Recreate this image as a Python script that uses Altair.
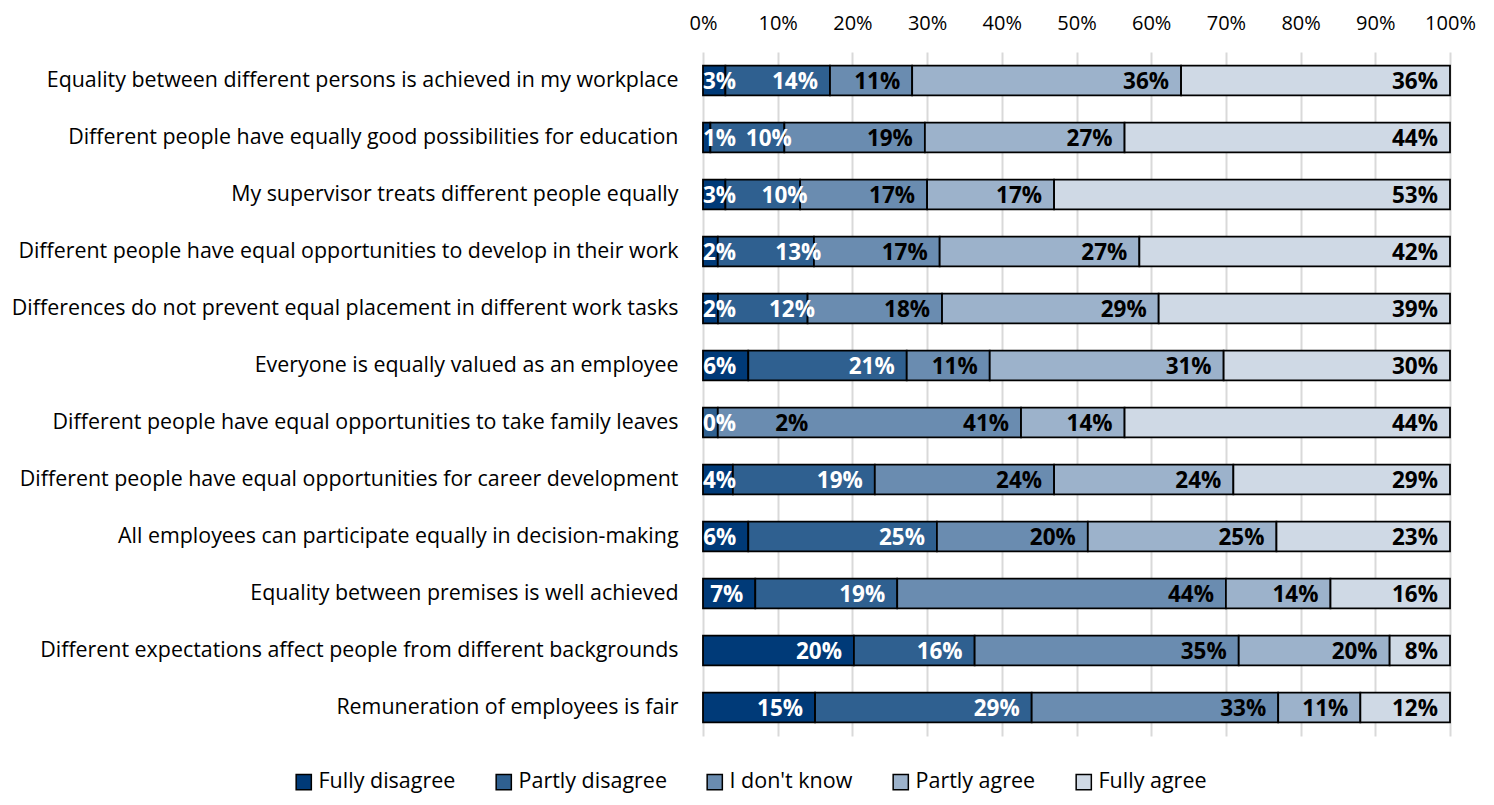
import altair as alt
import pandas as pd

questions = [
    "Equality between different persons is achieved in my workplace",
    "Different people have equally good possibilities for education",
    "My supervisor treats different people equally",
    "Different people have equal opportunities to develop in their work\u00a0",
    "Differences do not prevent equal placement in different work tasks\u00a0",
    "Everyone is equally valued as an employee",
    "Different people have equal opportunities to take family leaves",
    "Different people have equal opportunities for career development",
    "All employees can participate equally in decision-making",
    "Equality between premises is well achieved",
    "Different expectations affect people from different backgrounds",
    "Remuneration of employees is fair",
]
categories = ["Fully disagree", "Partly disagree", "I don't know", "Partly agree", "Fully agree"]
fully_disagree = [3, 1, 3, 2, 2, 6, 0, 4, 6, 7, 20, 15]
partly_disagree = [14, 10, 10, 13, 12, 21, 2, 19, 25, 19, 16, 29]
dont_know = [11, 19, 17, 17, 18, 11, 41, 24, 20, 44, 35, 33]
partly_agree = [36, 27, 17, 27, 29, 31, 14, 24, 25, 14, 20, 11]
fully_agree = [36, 44, 53, 42, 39, 30, 44, 29, 23, 16, 8, 12]
colors = ["#003a78", "#2f6090", "#6a8cb0", "#9cb2cb", "#cfd9e5"]

series = [fully_disagree, partly_disagree, dont_know, partly_agree, fully_agree]
rows = []
for ci, (cat, vals) in enumerate(zip(categories, series)):
    for qi, q in enumerate(questions):
        rows.append({"question": q, "category": cat, "order": ci, "value": vals[qi]})
df = pd.DataFrame(rows)

FONT = "Open Sans"

base = alt.Chart(df).transform_stack(
    stack="value", as_=["start", "end"], groupby=["question"],
    sort=[alt.SortField("order", order="ascending")], offset="normalize"
).transform_calculate(
    label=alt.datum.value + "%",
    lpos=("datum.category == 'Partly disagree' && datum.value < 5 ? datum.start + 0.157 : "
          "(datum.value < 5 ? datum.start : "
          "(datum.category == 'Partly disagree' && datum.value <= 13 ? datum.end + 0.026 : datum.end))"),
    white="datum.order < 2 && !(datum.category == 'Partly disagree' && datum.value < 5)"
)

y_enc = alt.Y("question:N", sort=questions, title=None,
              scale=alt.Scale(paddingInner=0.48, paddingOuter=0.24),
              axis=alt.Axis(domain=False, ticks=False, labelPadding=25, labelFontSize=21.4,
                            labelFont=FONT, labelColor="#000000", labelLimit=0))

bars = base.mark_bar(stroke="#000000", strokeWidth=1.8).encode(
    x=alt.X("start:Q", scale=alt.Scale(domain=[0, 1], nice=False),
            axis=alt.Axis(orient="top", format=".0%", values=[i / 10 for i in range(11)],
                          domain=False, ticks=False, labelPadding=19, labelFontSize=20,
                          labelFont=FONT, labelColor="#000000", gridColor="#d9d9d9",
                          gridWidth=2, labelFlush=False),
            title=None),
    x2="end:Q",
    y=y_enc,
    color=alt.Color("category:N", sort=categories,
                    scale=alt.Scale(domain=categories, range=colors),
                    legend=alt.Legend(title=None, orient="none", direction="horizontal",
                                      legendX=-410, legendY=719, symbolType="square",
                                      symbolSize=230, symbolStrokeColor="#000000",
                                      symbolStrokeWidth=1.5, labelFontSize=21.5, labelFont=FONT,
                                      labelColor="#000000", columnPadding=37, labelOffset=4)),
    order=alt.Order("order:Q"),
)

text_common = dict(fontSize=22.5, fontWeight="bold", font=FONT, baseline="middle", dy=1)
color_cond = alt.condition("datum.white", alt.value("#ffffff"), alt.value("#000000"))

labels_big = base.transform_filter("datum.value >= 5 || (datum.category == 'Partly disagree')").mark_text(
    align="right", dx=-12, **text_common).encode(
    x=alt.X("lpos:Q"),
    y=alt.Y("question:N", sort=questions),
    text="label:N",
    color=color_cond,
)

labels_small = base.transform_filter("datum.value < 5 && datum.category != 'Partly disagree'").mark_text(
    align="left", dx=0, **text_common).encode(
    x=alt.X("lpos:Q"),
    y=alt.Y("question:N", sort=questions),
    text="label:N",
    color=color_cond,
)

chart = alt.layer(bars, labels_big, labels_small).properties(
    width=747, height=684,
    autosize=alt.AutoSizeParams(type="none"),
    padding={"left": 695, "top": 44, "right": 34, "bottom": 61},
).configure_view(stroke=None).configure_axis(grid=True).configure_axisY(grid=False)

chart.save("out.html", embed_options={"renderer": "svg", "actions": False})
